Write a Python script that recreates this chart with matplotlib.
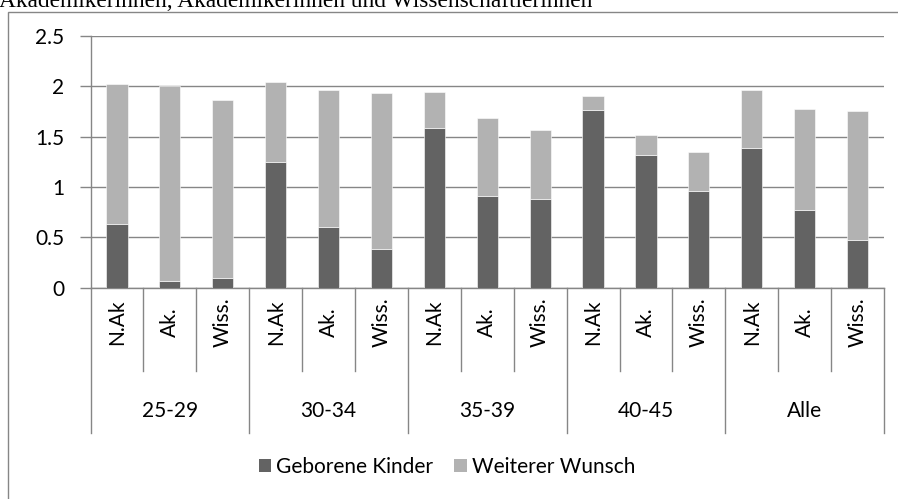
import matplotlib
matplotlib.use("Agg")
import matplotlib.pyplot as plt
from matplotlib.patches import Patch, Rectangle
from matplotlib.lines import Line2D

plt.rcParams['font.family'] = ['Lato', 'DejaVu Sans']

groups = ["25-29", "30-34", "35-39", "40-45", "Alle"]
subcats = ["N.Ak", "Ak.", "Wiss."]
geborene = [0.63, 0.06, 0.09, 1.25, 0.60, 0.38, 1.59, 0.91, 0.88, 1.76, 1.32, 0.96, 1.385, 0.77, 0.47]
gesamt = [2.02, 2.00, 1.86, 2.045, 1.96, 1.93, 1.94, 1.68, 1.57, 1.905, 1.52, 1.345, 1.965, 1.776, 1.75]
wunsch = [t - g for t, g in zip(gesamt, geborene)]
yticks = [0, 0.5, 1, 1.5, 2, 2.5]
ytick_labels = ["0", "0.5", "1", "1.5", "2", "2.5"]
series_names = ["Geborene Kinder", "Weiterer Wunsch"]
title = "Akademikerinnen, Akademikerinnen und Wissenschaftlerinnen"

dark = "#636363"
light = "#b2b2b2"
grid = "#868686"

W, H = 898, 499
fig = plt.figure(figsize=(W / 100, H / 100), dpi=100)

def fx(px):
    return px / W

def fy(py):
    return 1 - py / H

# chart border
fig.patches.append(Rectangle((fx(7.5), -0.05), 1.2, fy(11.5) + 0.05, transform=fig.transFigure,
                             fill=False, edgecolor=grid, linewidth=1.0))

fig.text(fx(-1), fy(7), title, family="Liberation Serif", fontsize=16.8, ha="left", va="baseline")

left_px, right_px, top_px, bot_px = 90.5, 884, 36, 287.5
ax = fig.add_axes([fx(left_px), fy(bot_px), fx(right_px) - fx(left_px), fy(top_px) - fy(bot_px)])

n = len(geborene)
x = list(range(n))
ax.bar(x, geborene, width=0.4, color=dark, edgecolor="white", linewidth=0.4, zorder=3)
ax.bar(x, wunsch, bottom=geborene, width=0.4, color=light, edgecolor="white", linewidth=0.4, zorder=3)

ax.set_xlim(-0.5, n - 0.5)
ax.set_ylim(0, 2.5)
ax.set_yticks(yticks)
ax.set_yticklabels(ytick_labels)
ax.yaxis.grid(True, color=grid, linewidth=1.0, zorder=0)
ax.set_axisbelow(True)
for s in ["top", "right"]:
    ax.spines[s].set_visible(False)
for s in ["left", "bottom"]:
    ax.spines[s].set_color(grid)
    ax.spines[s].set_linewidth(1.0)
ax.tick_params(axis="y", length=8, width=1.0, color=grid, pad=11, labelsize=15, labelcolor="#000000")
ax.set_xticks([])

tr = ax.get_xaxis_transform()
unit = (bot_px - top_px)

def ay(py):
    return -(py - bot_px) / unit

# level-1 separators and labels
for i in range(n + 1):
    is_group = (i % 3 == 0)
    y_end = ay(433) if is_group else ay(371)
    ax.add_line(Line2D([i - 0.5, i - 0.5], [0, y_end], transform=tr, color=grid, linewidth=1.0, clip_on=False))
for i in range(n):
    ax.text(i, ay(322), subcats[i % 3], transform=tr, rotation=90, ha="center", va="center",
            fontsize=15, clip_on=False)
for gi, g in enumerate(groups):
    ax.text(gi * 3 + 1, ay(411), g, transform=tr, ha="center", va="center", fontsize=15, clip_on=False)

handles = [Patch(facecolor=dark, edgecolor="none"), Patch(facecolor=light, edgecolor="none")]
fig.legend(handles, series_names, loc="center", bbox_to_anchor=(fx(447), fy(467)), ncol=2, frameon=False,
           fontsize=15, handlelength=0.6, handleheight=0.6, handletextpad=0.25, columnspacing=1.0)

fig.savefig("out.png", dpi=100)
